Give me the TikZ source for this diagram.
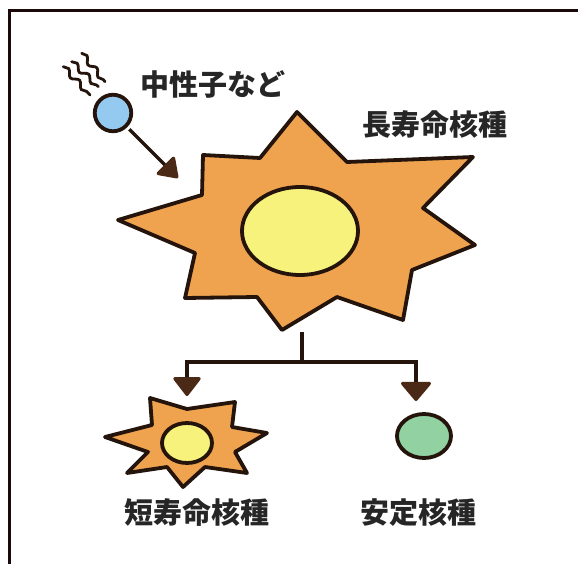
\documentclass[tikz,border=0pt]{standalone}
\usepackage{fontspec}
\newfontfamily\jp{Noto Sans CJK JP}
\usetikzlibrary{arrows.meta,decorations.pathmorphing,shapes.geometric}

\definecolor{ink}{HTML}{24140C}
\definecolor{framecol}{HTML}{1C0A0A}
\definecolor{shell}{HTML}{EFA34F}
\definecolor{core}{HTML}{F7F27C}
\definecolor{neutronblue}{HTML}{94CAF0}
\definecolor{stablegreen}{HTML}{92D1A2}
\definecolor{tipbrown}{HTML}{4A2A16}

\tikzset{
  outline/.style={draw=ink, line width=3.8pt, line join=round},
  jplabel/.style={font=\jp\bfseries\fontsize{29}{29}\selectfont, text=black!85, inner sep=0pt},
  stem/.style={draw=ink, line width=3.2pt},
  flow/.style={stem, -{Triangle[length=20pt, width=#1, color=tipbrown, round]}},
  flow/.default=30pt,
  squiggle/.style={draw=ink, line width=2.8pt, line cap=round, decorate,
    decoration={snake, amplitude=2.6pt, segment length=16pt}},
}

\begin{document}
\begin{tikzpicture}[x=1pt, y=-1pt]
  \useasboundingbox (0,0) rectangle (578,564);
  \fill[white] (0,0) rectangle (578,564);

  % open frame: left and top rules
  \draw[framecol, line width=3.6pt] (9.3,564) -- (9.3,10.7) -- (578,10.7);

  % incoming particle with motion lines
  \draw[squiggle] (81.7,53.3) -- (105,81.7);
  \draw[squiggle] (71.7,61.7) -- (98.3,86.7);
  \draw[squiggle] (63.3,66.7) -- (90,95);
  \node[circle, outline, fill=neutronblue, minimum size=36.5pt, inner sep=0pt] (neutron) at (113,113) {};
  \node[jplabel] (neutronlabel) at (213,84) {中性子など};

  % long-lived nucleus
  \path[outline, fill=shell] (297,112) -- (347,162) -- (473,157) -- (423,208)
    -- (475,245) -- (412,270) -- (403,320) -- (337,297) -- (282,330)
    -- (257,297) -- (185,298) -- (195,253) -- (118,220) -- (202,195)
    -- (203,155) -- (260,158) -- cycle;
  \node[ellipse, outline, fill=core, minimum width=116pt, minimum height=88pt, inner sep=0pt] (bigcore) at (300,231) {};
  \node[jplabel] (longlabel) at (435,125) {長寿命核種};

  \coordinate (hit) at (178,178);
  \draw[flow=27pt, shorten <=3pt] (neutron) -- (hit);

  % decay branches
  \coordinate (foot) at (302,332);
  \coordinate (split) at (302,362);
  \coordinate (shortin) at (187,396);
  \coordinate (stablein) at (416,401);
  \draw[stem] (foot) -- (split);
  \draw[flow] (split) -| (shortin);
  \draw[flow=33pt] (split) -| (stablein);

  % short-lived nucleus
  \path[outline, fill=shell] (150,398) -- (187,409) -- (235,402) -- (232,427)
    -- (267,433) -- (235,452) -- (247,473) -- (205,467) -- (183,487)
    -- (167,467) -- (127,473) -- (148,452) -- (105,437) -- (152,425) -- cycle;
  \node[ellipse, outline, fill=core, minimum width=50pt, minimum height=40pt, inner sep=0pt] (smallcore) at (187,443) {};
  \node[jplabel] (shortlabel) at (197,512.5) {短寿命核種};

  % stable nucleus
  \node[ellipse, outline, fill=stablegreen, minimum width=54pt, minimum height=44pt, inner sep=0pt] (stable) at (424,436) {};
  \node[jplabel] (stablelabel) at (418,512.5) {安定核種};
\end{tikzpicture}
\end{document}
